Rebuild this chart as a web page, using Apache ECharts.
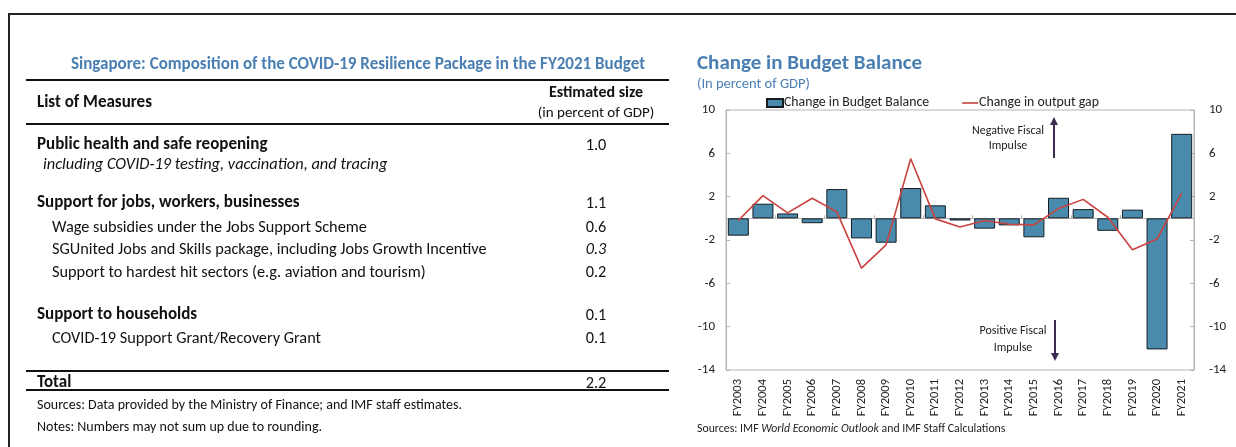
<!DOCTYPE html>
<html>
<head>
<meta charset="utf-8">
<script src="https://cdn.jsdelivr.net/npm/echarts@6/dist/echarts.min.js"></script>
<style>
  body { margin: 0; background: #fff; }
  #page { position: relative; width: 1236px; height: 447px; overflow: hidden; font-family: Carlito, Lato, sans-serif; color: #111; }
  #chart { position: absolute; left: 0; top: 0; width: 1236px; height: 447px; }
  #frame { position: absolute; left: 8px; top: 13px; width: 1300px; height: 500px; border-top: 2px solid #222; border-left: 2px solid #222; }
  #table { position: absolute; left: 0; top: 0; width: 690px; height: 447px; }
  .t { position: absolute; white-space: nowrap; line-height: 20px; height: 20px; }
  .rule { position: absolute; left: 26px; width: 643px; background: #111; }
</style>
</head>
<body>
<div id="page">
  <div id="chart"></div>
  <div id="frame"></div>
  <div id="table"></div>
</div>
<script>
// chart data
const years = ['FY2003', 'FY2004', 'FY2005', 'FY2006', 'FY2007', 'FY2008', 'FY2009', 'FY2010', 'FY2011', 'FY2012',
  'FY2013', 'FY2014', 'FY2015', 'FY2016', 'FY2017', 'FY2018', 'FY2019', 'FY2020', 'FY2021'];
const budgetBalanceChange = [-1.6, 1.35, 0.45, -0.45, 2.7, -1.85, -2.25, 2.8, 1.2, -0.2,
  -0.95, -0.65, -1.75, 1.9, 0.85, -1.15, 0.8, -12.1, 7.8];
const outputGapChange = [-0.2, 2.1, 0.5, 1.85, 0.6, -4.6, -2.45, 5.5, -0.05, -0.8,
  -0.2, -0.55, -0.6, 0.9, 1.75, 0.1, -2.9, -1.9, 2.3];
const yMin = -14, yMax = 10, yStep = 4;

// table data
const measureLabels = [
  'Public health and safe reopening',
  'including COVID-19 testing, vaccination, and tracing',
  'Support for jobs, workers, businesses',
  'Wage subsidies under the Jobs Support Scheme',
  'SGUnited Jobs and Skills package, including Jobs Growth Incentive',
  'Support to hardest hit sectors (e.g. aviation and tourism)',
  'Support to households',
  'COVID-19 Support Grant/Recovery Grant'
];
const measureSizes = ['1.0', '', '1.1', '0.6', '0.3', '0.2', '0.1', '0.1'];
const totalSize = '2.2';

// layout of table rows: kind, centre y
const rowLayout = [
  ['head', 144], ['note', 163], ['head', 202], ['sub', 226], ['subi', 248], ['sub', 271], ['head', 314], ['sub', 337]
];

const FONT = 'Carlito, Lato, sans-serif';
const table = document.getElementById('table');
function addText(txt, x, cy, css, center) {
  const d = document.createElement('div');
  d.className = 't';
  d.textContent = txt;
  d.style.top = (cy - 10) + 'px';
  if (center) { d.style.left = (x - 100) + 'px'; d.style.width = '200px'; d.style.textAlign = 'center'; }
  else d.style.left = x + 'px';
  d.style.cssText += css;
  table.appendChild(d);
}
function addRule(y, h) {
  const d = document.createElement('div');
  d.className = 'rule';
  d.style.top = y + 'px';
  d.style.height = h + 'px';
  table.appendChild(d);
}
const valX = 596;
addText('Singapore: Composition of the COVID-19 Resilience Package in the FY2021 Budget', 358, 64,
  'font-size:17px;font-weight:bold;color:#4a7fb3;left:0;width:716px;text-align:center;');
addRule(79, 2);
addText('List of Measures', 37, 102, 'font-size:17px;font-weight:bold;');
addText('Estimated size', valX, 92, 'font-size:16px;font-weight:bold;', true);
addText('(in percent of GDP)', valX, 112, 'font-size:15px;', true);
addRule(123, 2);
measureLabels.forEach(function (lbl, i) {
  const kind = rowLayout[i][0], cy = rowLayout[i][1];
  if (kind === 'head') addText(lbl, 37, cy, 'font-size:17px;font-weight:bold;');
  else if (kind === 'note') addText(lbl, 43, cy, 'font-size:16.4px;font-style:italic;');
  else addText(lbl, 52, cy, 'font-size:16.3px;');
  if (measureSizes[i]) addText(measureSizes[i], valX, cy, 'font-size:16.3px;' + (kind === 'subi' ? 'font-style:italic;' : ''), true);
});
addRule(370, 2);
addText('Total', 37, 382, 'font-size:17px;font-weight:bold;');
addText(totalSize, valX, 382, 'font-size:16.3px;', true);
addRule(389, 1.5);
addText('Sources: Data provided by the Ministry of Finance; and IMF staff estimates.', 37, 405, 'font-size:14px;');
addText('Notes: Numbers may not sum up due to rounding.', 37, 427, 'font-size:14px;');

// chart
const chart = echarts.init(document.getElementById('chart'));
const axisGrey = '#b4b4b4';
const arrowColor = '#3e2d52';
const yAxisBase = {
  type: 'value', min: yMin, max: yMax, interval: yStep,
  axisLine: { show: true, lineStyle: { color: axisGrey, width: 1 } },
  axisTick: { show: true, inside: true, length: 4, lineStyle: { color: axisGrey } },
  splitLine: { show: false },
  axisLabel: { color: '#222', fontSize: 13, fontFamily: FONT }
};
chart.setOption({
  animation: false,
  textStyle: { fontFamily: FONT },
  title: [
    { text: 'Change in Budget Balance', left: 697, top: 53, padding: 0,
      textStyle: { fontSize: 21, fontWeight: 'bold', color: '#4a7fb3', fontFamily: FONT } },
    { text: '(In percent of GDP)', left: 697, top: 77, padding: 0,
      textStyle: { fontSize: 14.5, fontWeight: 'normal', color: '#4a7fb3', fontFamily: FONT } }
  ],
  legend: {
    left: 766, top: 96, padding: 0, itemGap: 33, itemWidth: 16, itemHeight: 8,
    textStyle: { fontSize: 13.8, color: '#222', fontFamily: FONT, padding: [0, 0, 0, -4] },
    data: [
      { name: 'Change in Budget Balance', icon: 'rect' },
      { name: 'Change in output gap', icon: 'path://M0,0H16V1.6H0Z' }
    ]
  },
  grid: { left: 726, right: 42, top: 110, bottom: 77, show: true, borderColor: axisGrey, borderWidth: 1 },
  xAxis: [
    { type: 'category', data: years, position: 'bottom', axisLine: { show: false, onZero: false },
      axisTick: { show: false },
      axisLabel: { rotate: 90, margin: 9, interval: 0, color: '#222', fontSize: 12.5, fontFamily: FONT } },
    { type: 'category', data: years, position: 'top', axisLine: { show: true, onZero: true, lineStyle: { color: axisGrey } },
      axisTick: { show: true, length: 3, lineStyle: { color: axisGrey } }, axisLabel: { show: false } }
  ],
  yAxis: [
    Object.assign({}, yAxisBase, { position: 'left', axisLabel: Object.assign({}, yAxisBase.axisLabel, { margin: 11 }) }),
    Object.assign({}, yAxisBase, { position: 'right', axisLabel: Object.assign({}, yAxisBase.axisLabel, { margin: 15 }) })
  ],
  series: [
    { name: 'Change in Budget Balance', type: 'bar', data: budgetBalanceChange, barWidth: 21,
      itemStyle: { color: '#4a8bad', borderColor: '#141c22', borderWidth: 1 } },
    { name: 'Change in output gap', type: 'line', data: outputGapChange, symbol: 'none',
      lineStyle: { color: '#c9423f', width: 1.6 }, itemStyle: { color: '#c9423f' } }
  ],
  graphic: [
    { type: 'text', x: 1008, y: 123, style: { text: 'Negative Fiscal\nImpulse', fill: '#222',
      font: '12px ' + FONT, align: 'center', lineHeight: 15 } },
    { type: 'line', shape: { x1: 1054, y1: 158, x2: 1054, y2: 124 }, style: { stroke: arrowColor, lineWidth: 2 } },
    { type: 'polygon', shape: { points: [[1050, 125], [1058, 125], [1054, 117]] }, style: { fill: arrowColor } },
    { type: 'text', x: 1013, y: 322, style: { text: 'Positive Fiscal\nImpulse', fill: '#222',
      font: '12px ' + FONT, align: 'center', lineHeight: 17 } },
    { type: 'line', shape: { x1: 1055, y1: 320, x2: 1055, y2: 354 }, style: { stroke: arrowColor, lineWidth: 2 } },
    { type: 'polygon', shape: { points: [[1051, 353], [1059, 353], [1055, 361]] }, style: { fill: arrowColor } },
    { type: 'text', x: 697, y: 423, style: {
      text: '{n|Sources: IMF }{i|World Economic Outlook}{n| and IMF Staff Calculations}',
      rich: { n: { fontSize: 11.8, fill: '#222', fontFamily: FONT },
              i: { fontSize: 11.8, fill: '#222', fontFamily: FONT, fontStyle: 'italic' } } } }
  ]
});
</script>
</body>
</html>
